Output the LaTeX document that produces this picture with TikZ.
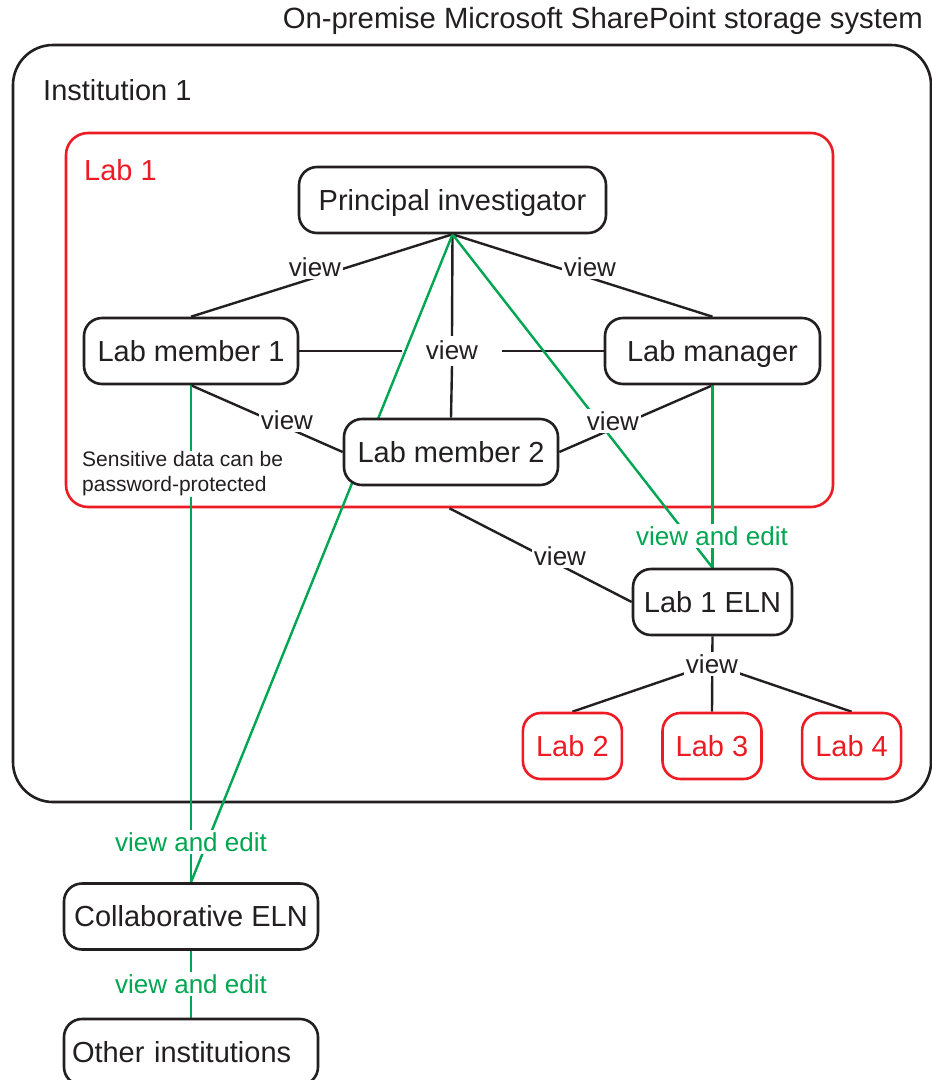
\documentclass[tikz,border=0pt]{standalone}
\usepackage{fontspec}
\setmainfont{Liberation Sans}
\usepackage{tikz}
\usetikzlibrary{positioning}
\usepackage{xcolor}
\definecolor{labred}{HTML}{ED1C24}
\definecolor{elngreen}{HTML}{00A651}
\definecolor{ink}{HTML}{231F20}
\pgfdeclarelayer{bg}
\pgfsetlayers{bg,main}
\tikzset{
  box/.style={draw=ink, line width=2.6pt, rounded corners=18pt, fill=white,
    minimum height=66pt, inner sep=0pt, text height=23pt, text depth=3pt,
    text=ink, font=\fontsize{29}{34}\selectfont},
  labbox/.style={box, draw=labred, text=labred, minimum width=99pt},
  frame/.style={draw, line width=2.6pt, inner sep=0pt},
  lbl/.style={fill=white, inner sep=2pt, text=ink, font=\fontsize{26}{30}\selectfont},
  glbl/.style={lbl, text=elngreen},
  link/.style={ink, line width=2.4pt},
  glink/.style={elngreen, line width=2.4pt}
}

\begin{document}
\begin{tikzpicture}[x=1pt,y=-1pt]
    \useasboundingbox (0,0) rectangle (932,1080);
    \node[box, minimum width=307pt] (pi) at (452.5,200) {Principal investigator};
    \node[box, minimum width=214pt] (lmone) at (191,351) {Lab member 1};
    \node[box, minimum width=215pt] (lmgr) at (712.5,351) {Lab manager};
    \node[box, minimum width=214pt] (lmtwo) at (451,452) {Lab member 2};
    \node[box, minimum width=159pt] (eln) at (712.5,602) {Lab 1 ELN};
    \node[labbox] (labthree) at (712,746) {Lab 3};
    \node[labbox, left=38pt of labthree] (labtwo) {Lab 2};
    \node[labbox, right=38pt of labthree] (labfour) {Lab 4};
    \node[box, minimum width=254pt] (collab) at (191,916.5) {Collaborative ELN};
    \node[box, minimum width=254pt, text width=238pt, align=left] (other) at (191,1052) {Other institutions};

    \node[inner sep=0pt, anchor=east, text=ink, font=\fontsize{29.3}{34}\selectfont] (title) at (923,21) {On-premise Microsoft SharePoint storage system};
    \node[inner sep=0pt, anchor=west, text=ink, font=\fontsize{29}{34}\selectfont] (instname) at (43,90) {Institution 1};
    \node[inner sep=0pt, anchor=west, text=labred, font=\fontsize{29}{34}\selectfont] (labname) at (84,170) {Lab 1};
    \node[fill=white, inner sep=1pt, anchor=west, align=left, text=ink, font=\fontsize{21}{25}\selectfont] (note) at (81,474) {Sensitive data can be\\password-protected};

    \node[lbl] (vpione) at (315,267) {view};
    \node[lbl] (vpimgr) at (590,267) {view};
    \node[lbl, fill=none, inner xsep=24pt, inner ysep=5pt, text height=18pt, text depth=2pt] (vhub) at (452,351) {view};
    \node[lbl] (vonetwo) at (287,420) {view};
    \node[lbl] (vtwomgr) at (613,421) {view};
    \node[lbl] (vlabeln) at (560,556) {view};
    \node[lbl] (vlabs) at (712,664) {view};
    \node[glbl] (gveln) at (712,536) {view and edit};
    \node[glbl] (gvcollab) at (191,842) {view and edit};
    \node[glbl] (gvother) at (191,984) {view and edit};

    \begin{pgfonlayer}{bg}
        \node[frame, draw=ink, rounded corners=40pt, minimum width=918pt, minimum height=757pt] (inst) at (472,423.5) {};
        \node[frame, draw=labred, rounded corners=22pt, minimum width=767pt, minimum height=374pt] (lab) at (449.5,320) {};
        \draw[link] (pi.south) -- (lmone.north);
        \draw[link] (pi.south) -- (lmgr.north);
        \draw[link] (pi.south) -- (vhub.north);
        \draw[link] (vhub.south) -- (lmtwo.north);
        \draw[link] (lmone.east) -- (vhub.west);
        \draw[link] (vhub.east) -- (lmgr.west);
        \draw[link] (lmone.south) -- (lmtwo.west);
        \draw[link] (lmtwo.east) -- (lmgr.south);
        \draw[link] (lab.south) -- (eln.west);
        \draw[link] (eln.south) -- (labthree.north);
        \draw[link] (vlabs.center) -- (labtwo.north);
        \draw[link] (vlabs.center) -- (labfour.north);
        \draw[glink] (pi.south) -- (eln.north);
        \draw[glink] (lmgr.south) -- (eln.north);
        \draw[glink] (pi.south) -- (collab.north);
        \draw[glink] (lmone.south) -- (collab.north);
        \draw[glink] (collab.south) -- (other.north);
    \end{pgfonlayer}
\end{tikzpicture}
\end{document}
